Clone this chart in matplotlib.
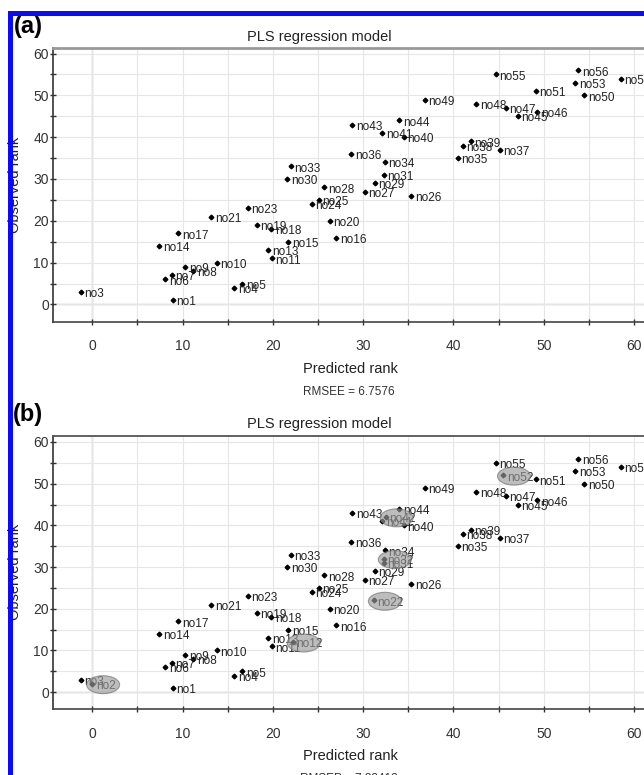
import matplotlib
matplotlib.use('Agg')
from matplotlib import pyplot as plt
from matplotlib.patches import Ellipse, Rectangle
from matplotlib.ticker import MultipleLocator

plt.rcParams['font.family'] = ['Liberation Sans', 'DejaVu Sans']

# training set: sample id (= observed rank) and predicted rank
train_ids  = [1, 3, 4, 5, 6, 7, 8, 9, 10, 11, 13, 14, 15, 16, 17, 18, 19, 20, 21, 23,
              24, 25, 26, 27, 28, 29, 30, 31, 33, 34, 35, 36, 37, 38, 39, 40, 41, 43, 44, 45,
              46, 47, 48, 49, 50, 51, 53, 54, 55, 56]
train_obs  = train_ids
train_pred = [8.9, -1.3, 15.7, 16.6, 8.1, 8.8, 11.2, 10.3, 13.8, 19.9, 19.5, 7.4, 21.7, 27.0, 9.5, 19.8, 18.2, 26.3, 13.2, 17.2,
              24.3, 25.1, 35.3, 30.2, 25.7, 31.3, 21.6, 32.3, 22.0, 32.4, 40.5, 28.7, 45.1, 41.0, 41.9, 34.5, 32.1, 28.8, 34.0, 47.1,
              49.3, 45.8, 42.5, 36.8, 54.5, 49.1, 53.5, 58.5, 44.7, 53.8]

# test set (highlighted in panel b)
test_ids  = [2, 12, 22, 32, 42, 52]
test_obs  = test_ids
test_pred = [0.0, 22.2, 31.2, 32.3, 32.5, 45.5]

panel_tags  = ['(a)', '(b)']
panel_title = 'PLS regression model'
x_label     = 'Predicted rank'
y_label     = 'Observed rank'
err_texts   = ['RMSEE = 6.7576', 'RMSEP = 7.33412']

W, H = 644.0, 775.0


def fx(px):
    return px / W


def fy(py):
    return 1 - py / H


def style_axes(ax, top_color, top_lw):
    ax.set_xlim(-4.35, 61.76)
    ax.xaxis.set_major_locator(MultipleLocator(10))
    ax.xaxis.set_minor_locator(MultipleLocator(5))
    ax.yaxis.set_major_locator(MultipleLocator(10))
    ax.yaxis.set_minor_locator(MultipleLocator(5))
    ax.grid(True, which='both', color='#e6e6e6', lw=0.8, zorder=0)
    ax.axvline(0, color='#bdbdbd', lw=1.0, zorder=0.5)
    ax.axhline(0, color='#bdbdbd', lw=1.0, zorder=0.5)
    ax.tick_params(which='both', direction='inout', length=5, width=1, colors='#333333',
                   labelsize=10)
    ax.tick_params(axis='x', which='both', pad=10)
    ax.tick_params(axis='y', which='both', pad=0.5)
    ax.spines['left'].set_color('#333333')
    ax.spines['bottom'].set_color('#444444')
    ax.spines['left'].set_linewidth(1.2)
    ax.spines['bottom'].set_linewidth(1.2)
    ax.spines['top'].set_color(top_color)
    ax.spines['top'].set_linewidth(top_lw)
    ax.spines['right'].set_visible(False)


def draw_points(ax, ids, pred, obs):
    ax.plot(pred, obs, 'D', ms=2.4, color='black', zorder=3)
    for i, x, y in zip(ids, pred, obs):
        ax.annotate('no%s' % i, (x, y), xytext=(2.6, -1.6), textcoords='offset points',
                    ha='left', va='center', fontsize=8.5, color='#222222', zorder=3)


def main():
    fig = plt.figure(figsize=(6.44, 7.75), dpi=100)

    ax1 = fig.add_axes([fx(53), fy(322), fx(650) - fx(53), fy(47.7) - fy(322)])
    ax2 = fig.add_axes([fx(53), fy(709.3), fx(650) - fx(53), fy(435.7) - fy(709.3)])
    ax1.set_ylim(-4.2, 61.4)
    ax2.set_ylim(-4.1, 61.5)
    style_axes(ax1, '#999999', 2.0)
    style_axes(ax2, '#555555', 1.3)

    draw_points(ax1, train_ids, train_pred, train_obs)
    draw_points(ax2, train_ids, train_pred, train_obs)
    draw_points(ax2, test_ids, test_pred, test_obs)

    # grey ellipses over the test samples
    for x, y in zip(test_pred, test_obs):
        e = Ellipse((x + 1.2, y - 0.2), 3.65, 4.3, facecolor='#9a9a9a', edgecolor='#6f6f6f',
                    lw=0.8, alpha=0.65, zorder=4)
        ax2.add_patch(e)

    # texts in figure pixels
    tops = [0, 387]
    for k in range(2):
        t = tops[k]
        fig.text(fx(28), fy(27 + t), panel_tags[k], fontsize=17, fontweight='bold',
                 ha='center', va='center')
        fig.text(fx(319), fy(37 + t), panel_title, fontsize=10.5, ha='center', va='center',
                 color='#222222')
        fig.text(fx(350), fy(369 + t), x_label, fontsize=10.5, ha='center', va='center',
                 color='#222222')
        fig.text(fx(349), fy(392 + t), err_texts[k], fontsize=8.5, ha='center', va='center',
                 color='#333333')
        fig.text(fx(15), fy(185 + t), y_label, fontsize=10.5, rotation=90, ha='center',
                 va='center', color='#222222')

    # blue frame (cropped on right and bottom)
    frame = Rectangle((fx(9.5), -0.2), 2.0, fy(12.5) + 0.2, transform=fig.transFigure,
                      fill=False, edgecolor='#0a0aff', lw=3.6, zorder=10)
    fig.patches.append(frame)

    plt.savefig('out.png', dpi=100)
    plt.close(fig)


if __name__ == '__main__':
    main()
